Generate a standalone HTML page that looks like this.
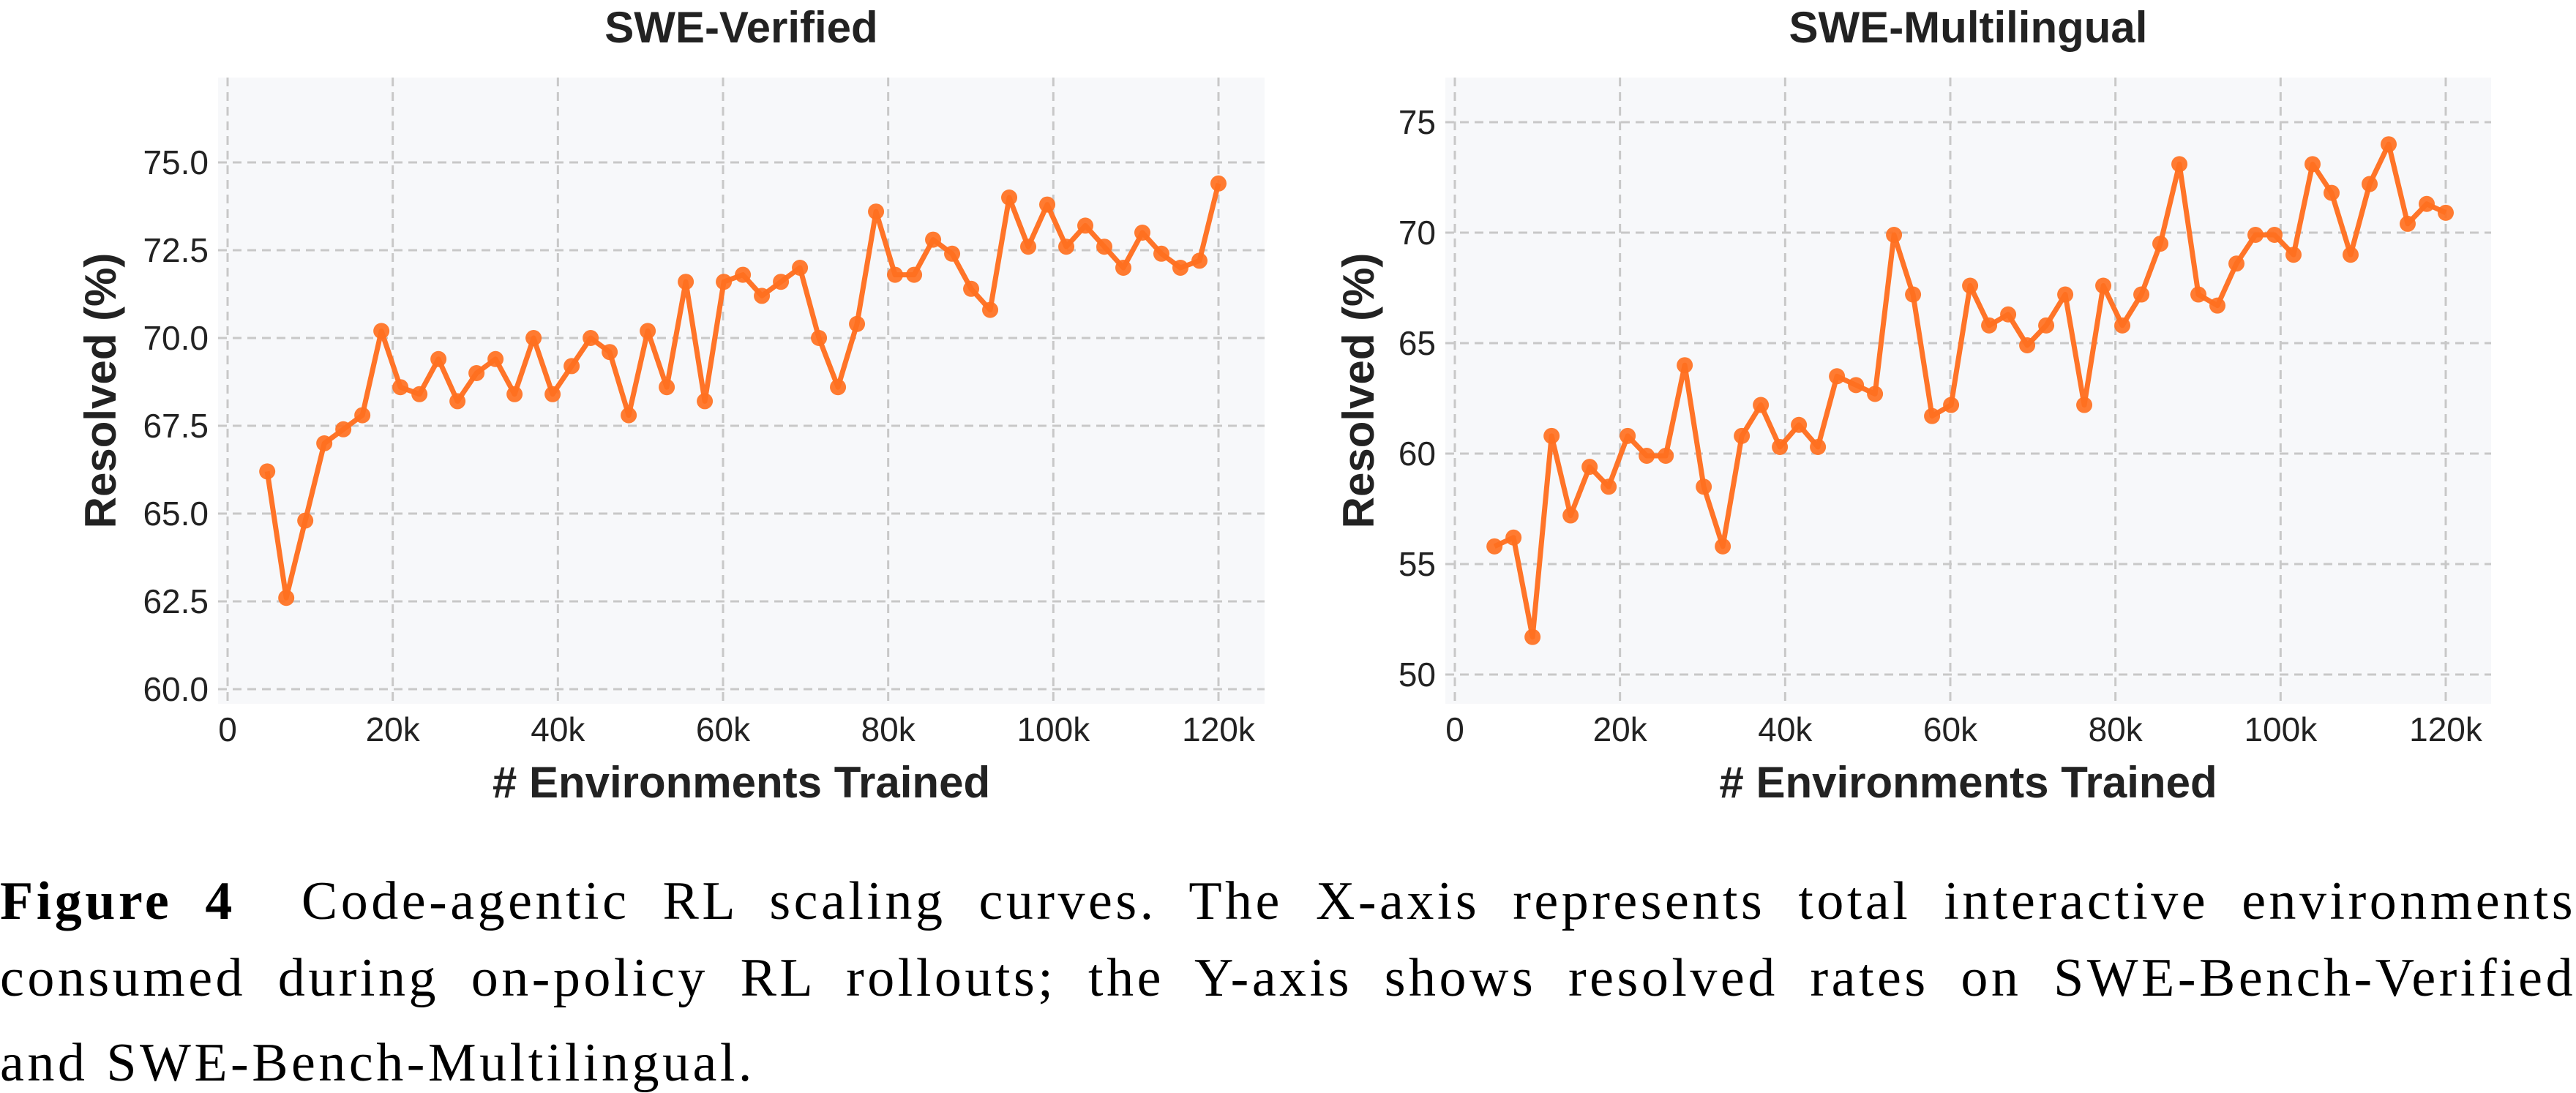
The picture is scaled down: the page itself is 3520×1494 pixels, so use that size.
<!DOCTYPE html>
<html><head><meta charset="utf-8"><style>
body{margin:0;background:#fff;width:3520px;height:1492px;overflow:hidden;position:relative}
svg{position:absolute;left:0;top:0}
.cap{position:absolute;left:0;width:3520px;font-family:"Liberation Serif",serif;font-size:74px;letter-spacing:4.5px;word-spacing:2px;color:#000;white-space:nowrap;line-height:1}
.j{text-align:justify;text-align-last:justify;white-space:normal}
</style></head><body>
<svg id="s" width="3520" height="1100" xmlns="http://www.w3.org/2000/svg" font-family="Liberation Sans, sans-serif"></svg>
<div class="cap j" style="top:1195px">
<b>Figure&nbsp;4</b>&nbsp;&nbsp;Code-agentic RL scaling curves. The X-axis represents total interactive environments</div>
<div class="cap j" style="top:1300px">consumed during on-policy RL rollouts; the Y-axis shows resolved rates on SWE-Bench-Verified</div>
<div class="cap" style="top:1416px">and SWE-Bench-Multilingual.</div>
<script>
const L=[66.2,62.6,64.8,67.0,67.4,67.8,70.2,68.6,68.4,69.4,68.2,69.0,69.4,68.4,70.0,68.4,69.2,70.0,69.6,67.8,70.2,68.6,71.6,68.2,71.6,71.8,71.2,71.6,72.0,70.0,68.6,70.4,73.6,71.8,71.8,72.8,72.4,71.4,70.8,74.0,72.6,73.8,72.6,73.2,72.6,72.0,73.0,72.4,72.0,72.2,74.4];
const R=[55.8,56.2,51.7,60.8,57.2,59.4,58.5,60.8,59.9,59.9,64.0,58.5,55.8,60.8,62.2,60.3,61.3,60.3,63.5,63.1,62.7,69.9,67.2,61.7,62.2,67.6,65.8,66.3,64.9,65.8,67.2,62.2,67.6,65.8,67.2,69.5,73.1,67.2,66.7,68.6,69.9,69.9,69.0,73.1,71.8,69.0,72.2,74.0,70.4,71.3,70.9];
let h='';
function panel(o){
 const {px0,px1,x0,x120,yv0,yp0,yv1,yp1,ticks,fmt,data,title,ylx,tickR}=o;
 const X=v=>x0+(x120-x0)*v/120000, Y=v=>yp0+(yp1-yp0)*(v-yv0)/(yv1-yv0);
 h+=`<rect x="${px0}" y="106" width="${px1-px0}" height="856" fill="#f7f8fa"/>`;
 for(let k=0;k<=120000;k+=20000){const x=X(k);h+=`<line x1="${x}" y1="106" x2="${x}" y2="962" stroke="#c8c8c8" stroke-width="3" stroke-dasharray="12,8"/>`;
  h+=`<text x="${x}" y="1013" font-size="46" fill="#222" text-anchor="middle">${k?k/1000+'k':'0'}</text>`;}
 for(const t of ticks){const y=Y(t);h+=`<line x1="${px0}" y1="${y}" x2="${px1}" y2="${y}" stroke="#c8c8c8" stroke-width="3" stroke-dasharray="12,8"/>`;
  h+=`<text x="${tickR}" y="${y+16}" font-size="46" fill="#222" text-anchor="end">${fmt(t)}</text>`;}
 const pts=data.map((v,i)=>[X(4800+i*115200/50),Y(v)]);
 h+=`<polyline points="${pts.map(p=>p.join(',')).join(' ')}" fill="none" stroke="#ff7428" stroke-width="7" stroke-linejoin="round"/>`;
 for(const p of pts)h+=`<circle cx="${p[0]}" cy="${p[1]}" r="11" fill="#ff7020" fill-opacity="0.92"/>`;
 h+=`<text x="${(px0+px1)/2}" y="58" font-size="60" font-weight="bold" fill="#222" text-anchor="middle">${title}</text>`;
 h+=`<text x="${(px0+px1)/2}" y="1090" font-size="60" font-weight="bold" fill="#222" text-anchor="middle"># Environments Trained</text>`;
 h+=`<text transform="translate(${ylx},534) rotate(-90)" font-size="60" font-weight="bold" fill="#222" text-anchor="middle">Resolved (%)</text>`;
}
panel({px0:298,px1:1728,x0:311,x120:1665,yv0:60,yp0:942,yv1:75,yp1:222,ticks:[60,62.5,65,67.5,70,72.5,75],fmt:t=>t.toFixed(1),data:L,title:'SWE-Verified',ylx:158,tickR:285});
panel({px0:1975,px1:3404,x0:1988,x120:3342,yv0:50,yp0:922,yv1:75,yp1:167,ticks:[50,55,60,65,70,75],fmt:t=>t,data:R,title:'SWE-Multilingual',ylx:1877,tickR:1962});
document.getElementById('s').innerHTML=h;
</script>
</body></html>
